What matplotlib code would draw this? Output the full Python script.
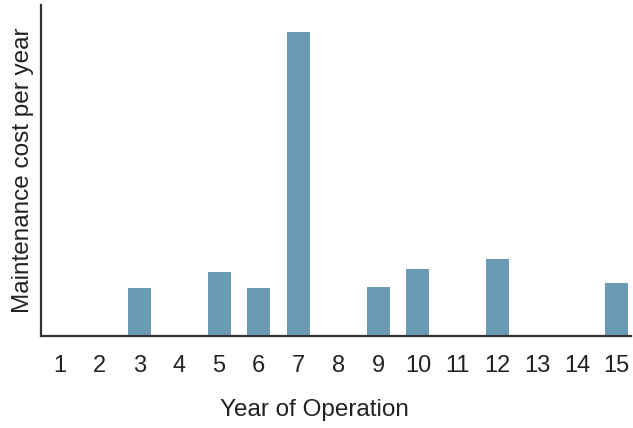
import matplotlib.pyplot as plt

years = list(range(1, 16))
cost = [0, 0, 48, 0, 64, 48, 304, 0, 49, 67, 0, 77, 0, 0, 53]

plt.rcParams["font.family"] = ["Liberation Sans", "DejaVu Sans"]

fig = plt.figure(figsize=(6.33, 4.28), dpi=100)
ax = fig.add_axes([41 / 633, 92 / 428, 590 / 633, 331 / 428])

ax.bar(years, cost, width=0.58, color="#6A9AB5", zorder=2)

ax.set_xlim(0.52, 15.36)
ax.set_ylim(0, 331)
ax.set_xticks(years)
ax.set_yticks([])
ax.tick_params(axis="x", length=0, pad=14, labelsize=17, colors="#222222")

for side in ("top", "right"):
    ax.spines[side].set_visible(False)
for side in ("left", "bottom"):
    ax.spines[side].set_linewidth(1.6)
    ax.spines[side].set_color("#333333")

ax.set_xlabel("Year of Operation", fontsize=17.5, color="#222222", va="center")
ax.set_ylabel("Maintenance cost per year", fontsize=17.5, color="#222222", labelpad=5)
# label sits a bit left of the axes centre in the reference
ax.xaxis.set_label_coords((314 - 41) / 590, -74 / 331)

fig.savefig("out.png", dpi=100)
